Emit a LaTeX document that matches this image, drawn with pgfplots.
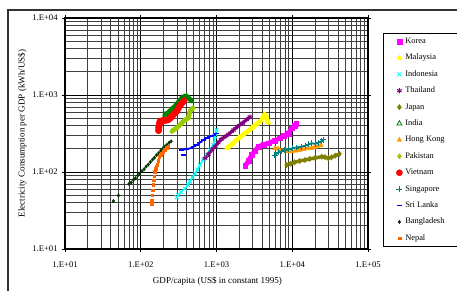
\documentclass[border=0pt]{standalone}
\usepackage{pgfplots}
\pgfplotsset{compat=1.18}
\usepackage{pgfplotstable}
\usepackage{fontspec}
\setmainfont{Liberation Serif}

\definecolor{cKorea}{HTML}{FF00FF}
\definecolor{cMalaysia}{HTML}{FFFF00}
\definecolor{cIndonesia}{HTML}{00FFFF}
\definecolor{cThailand}{HTML}{800080}
\definecolor{cJapan}{HTML}{808000}
\definecolor{cIndia}{HTML}{008000}
\definecolor{cHongKong}{HTML}{FF9900}
\definecolor{cPakistan}{HTML}{99CC00}
\definecolor{cVietnam}{HTML}{FF0000}
\definecolor{cSingapore}{HTML}{008080}
\definecolor{cSriLanka}{HTML}{0000FF}
\definecolor{cBangladesh}{HTML}{003300}
\definecolor{cNepal}{HTML}{FF6600}

\pgfplotstableread{
x y
2400 120
2650 140
2917 166
3250 190
3565 213
4200 228
4830 236
5800 255
6890 274
7800 295
8870 318
9840 370
10700 400
11300 425
}\tKorea

\pgfplotstableread{
x y
1380 205
1600 230
1941 274
2400 320
2917 370
3400 420
3954 473
4300 560
4500 540
4800 440
}\tMalaysia

\pgfplotstableread{
x y
300 47
313 50
340 55
384 61
420 68
447 75
480 85
520 96
560 108
605 123
670 145
743 166
820 195
908 224
960 290
1000 355
}\tIndonesia

\pgfplotstableread{
x y
705 151
780 170
870 195
960 215
1050 240
1150 265
1294 287
1450 310
1667 350
1900 390
2200 430
2506 480
2767 520
}\tThailand

\pgfplotstableread{
x y
8430 123
9500 128
10800 134
12500 139
14720 143
17000 148
20000 152
24500 158
27000 156
29900 151
33000 155
37000 163
42000 172
}\tJapan

\pgfplotstableread{
x y
209 556
230 590
255 650
283 713
310 800
347 914
375 950
405 962
435 900
465 835
}\tIndia

\pgfplotstableread{
x y
5915 203
6500 200
7500 190
8500 186
9840 184
11000 188
12500 192
14000 197
16300 203
18000 205
20000 210
22000 218
24000 222
}\tHongKong

\pgfplotstableread{
x y
258 338
275 355
298 373
330 410
365 455
395 480
425 502
447 614
470 650
490 675
}\tPakistan

\pgfplotstableread{
x y
172 345
173 380
176 420
180 455
195 465
215 470
231 478
250 510
270 560
298 614
320 700
348 787
372 845
}\tVietnam

\pgfplotstableread{
x y
5915 166
6500 180
7200 185
8020 193
9000 198
10000 203
11500 208
13340 213
15000 220
16500 228
18070 236
20000 232
22000 240
24000 250
25700 261
}\tSingapore

\pgfplotstableread{
x y
347 193
400 198
447 203
500 213
548 224
600 240
670 261
740 275
820 287
900 300
1000 318
}\tSriLanka

\pgfplotstableread{
x y
43.5 42
50.8 49.5
70 70
75 73
80 79
85 83
91 90
97 95
104 103
111 109
118 118
126 125
134 135
143 145
152 154
162 166
173 177
184 190
196 202
209 214
222 226
237 240
252 250
}\tBangladesh

\pgfplotstableread{
x y
139 39
140 43
142 50
144 58
146 68
149 78
151 88
153 100
156 110
160 118
165 125
170 140
176 158
182 168
189 175
198 185
208 193
218 205
231 216
}\tNepal

\begin{document}
\begin{tikzpicture}
\path[use as bounding box] (-48.75pt,-31.5pt) rectangle (294pt,186.75pt);
\begin{axis}[
  xmode=log, ymode=log,
  scale only axis, width=227.25pt, height=173.25pt,
  xmin=10, xmax=100000, ymin=10, ymax=10000,
  xtick={10,100,1000,10000,100000},
  xticklabels={1.E+01,1.E+02,1.E+03,1.E+04,1.E+05},
  ytick={10,100,1000,10000},
  yticklabels={1.E+01,1.E+02,1.E+03,1.E+04},
  grid=both,
  major grid style={black, line width=0.6pt},
  minor grid style={black!75, line width=0.5pt},
  axis line style={black, line width=0.8pt},
  tick align=outside, major tick length=2pt, minor tick length=0pt,
  tick style={black, line width=0.6pt},
  ticklabel style={font=\fontsize{6.5}{7}\selectfont},
  xticklabel style={yshift=-4pt},
  xlabel={GDP/capita (US\$ in constant 1995)},
  ylabel={Electricity Consumption per GDP (kWh/US\$)},
  label style={font=\fontsize{6.8}{8}\selectfont},
  xlabel style={at={(axis description cs:0.503,-0.139)}, anchor=center},
  ylabel style={at={(axis description cs:-0.141,0.5)}, anchor=center},
  legend cell align=left,
  legend style={at={(axis description cs:1.0495,0.935)}, anchor=north west,
    draw=black, line width=0.8pt, fill=white,
    font=\fontsize{6.3}{7}\selectfont,
    inner xsep=9.5pt, inner ysep=3pt, row sep=6.3pt, column sep=2pt,
    nodes={inner sep=0pt, text height=4.5pt, text depth=1.5pt}},
  legend image code/.code={\path (0pt,0pt) (4pt,0pt); \draw[#1] plot coordinates {(2pt,0pt)};},
]
% Korea
\addplot[forget plot, cKorea, line width=3.5pt, line cap=round, line join=round] table {\tKorea};
\addplot[only marks, mark=square*, mark size=1.8pt, cKorea, mark options={line width=0.3pt}] table {\tKorea};
\addlegendentry{Korea}
% Malaysia
\addplot[forget plot, cMalaysia, line width=3.5pt, line cap=round, line join=round] table {\tMalaysia};
\addplot[only marks, mark=triangle*, mark size=2.2pt, cMalaysia, mark options={line width=0.3pt}] table {\tMalaysia};
\addlegendentry{Malaysia}
% Indonesia
\addplot[forget plot, cIndonesia, line width=1.2pt, line cap=round, line join=round] table {\tIndonesia};
\addplot[only marks, mark=x, mark size=2pt, cIndonesia, mark options={line width=0.7pt}] table {\tIndonesia};
\addlegendentry{Indonesia}
% Thailand
\addplot[forget plot, cThailand, line width=2.4pt, line cap=round, line join=round] table {\tThailand};
\addplot[only marks, mark=asterisk, mark size=2pt, cThailand, mark options={line width=0.7pt}] table {\tThailand};
\addlegendentry{Thailand}
% Japan
\addplot[forget plot, cJapan, line width=2.6pt, line cap=round, line join=round] table {\tJapan};
\addplot[only marks, mark=diamond*, mark size=2pt, cJapan, mark options={line width=0.3pt}] table {\tJapan};
\addlegendentry{Japan}
% India
\addplot[forget plot, cIndia, line width=3.5pt, line cap=round, line join=round] table {\tIndia};
\addplot[only marks, mark=triangle, mark size=2.1pt, cIndia, mark options={line width=0.6pt}] table {\tIndia};
\addlegendentry{India}
% Hong Kong
\addplot[forget plot, cHongKong, line width=2.2pt, line cap=round, line join=round] table {\tHongKong};
\addplot[only marks, mark=triangle*, mark size=2pt, cHongKong, mark options={line width=0.3pt}] table {\tHongKong};
\addlegendentry{Hong Kong}
% Pakistan
\addplot[forget plot, cPakistan, line width=3.5pt, line cap=round, line join=round] table {\tPakistan};
\addplot[only marks, mark=diamond*, mark size=2pt, cPakistan, mark options={line width=0.3pt}] table {\tPakistan};
\addlegendentry{Pakistan}
% Vietnam
\addplot[forget plot, cVietnam, line width=5pt, line cap=round, line join=round] table {\tVietnam};
\addplot[only marks, mark=*, mark size=2.3pt, cVietnam, mark options={line width=0.3pt}] table {\tVietnam};
\addlegendentry{Vietnam}
% Singapore
\addplot[forget plot, cSingapore, line width=1.4pt, line cap=round, line join=round] table {\tSingapore};
\addplot[only marks, mark=+, mark size=2.2pt, cSingapore, mark options={line width=0.8pt}] table {\tSingapore};
\addlegendentry{Singapore}
% Sri Lanka
\addplot[forget plot, cSriLanka, line width=1.3pt, line cap=round, line join=round] table {\tSriLanka};
\addplot[forget plot, only marks, mark=-, mark size=2pt, cSriLanka, mark options={line width=1pt}] coordinates {(365,166)};
\addplot[only marks, mark=-, mark size=2pt, cSriLanka, mark options={line width=1pt}] table {\tSriLanka};
\addlegendentry{Sri Lanka}
% Bangladesh
\addplot[only marks, mark=diamond*, mark size=1.3pt, cBangladesh, mark options={line width=0.3pt}] table {\tBangladesh};
\addlegendentry{Bangladesh}
% Nepal
\addplot[only marks, mark=square*, mark size=1pt, cNepal, mark options={line width=0.3pt}] table {\tNepal};
\addlegendentry{Nepal}
\end{axis}
\draw[line width=1.6pt, black!80] (-42.75pt,-31.5pt) -- (-42.75pt,179.25pt) -- (294pt,179.25pt);
\end{tikzpicture}
\end{document}
